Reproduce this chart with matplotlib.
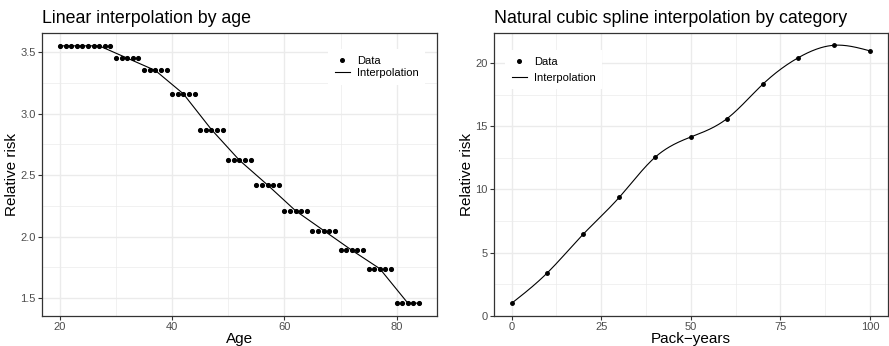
import numpy as np
import matplotlib
matplotlib.use("Agg")
import matplotlib.pyplot as plt
from matplotlib.lines import Line2D

plt.rcParams['font.family'] = ['Liberation Sans', 'DejaVu Sans']

# left panel: relative risk by single year of age (5-year group values)
ages = np.arange(20, 85)
group_rr = [3.55, 3.45, 3.35, 3.16, 2.87, 2.62, 2.42, 2.21, 2.05, 1.89, 1.74, 1.46]
group_n = [10, 5, 5, 5, 5, 5, 5, 5, 5, 5, 5, 5]
age_rr = np.repeat(group_rr, group_n)
# knots of the linear interpolation (group midpoints)
knot_age = [20, 27, 32, 37, 42, 47, 52, 57, 62, 67, 72, 77, 82, 84]
knot_rr = [3.55, 3.55, 3.45, 3.35, 3.16, 2.87, 2.62, 2.42, 2.21, 2.05, 1.89, 1.74, 1.46, 1.46]

# right panel: relative risk by pack-years category
pack_years = [0, 10, 20, 30, 40, 50, 60, 70, 80, 90, 100]
pack_rr = [1.0, 3.42, 6.47, 9.37, 12.54, 14.15, 15.58, 18.3, 20.42, 21.4, 20.95]


def natural_spline(x, y, xs):
    x = np.asarray(x, float)
    y = np.asarray(y, float)
    n = len(x)
    h = np.diff(x)
    A = np.zeros((n - 2, n - 2))
    r = np.zeros(n - 2)
    for i in range(1, n - 1):
        A[i - 1, i - 1] = 2 * (h[i - 1] + h[i])
        if i > 1:
            A[i - 1, i - 2] = h[i - 1]
        if i < n - 2:
            A[i - 1, i] = h[i]
        r[i - 1] = 6 * ((y[i + 1] - y[i]) / h[i] - (y[i] - y[i - 1]) / h[i - 1])
    M = np.zeros(n)
    M[1:-1] = np.linalg.solve(A, r)
    k = np.clip(np.searchsorted(x, xs) - 1, 0, n - 2)
    hk = h[k]
    a = x[k + 1] - xs
    b = xs - x[k]
    return (M[k] * a**3 / (6 * hk) + M[k + 1] * b**3 / (6 * hk)
            + (y[k] / hk - M[k] * hk / 6) * a + (y[k + 1] / hk - M[k + 1] * hk / 6) * b)


def style(ax, xmaj, xmin, ymaj, ymin):
    ax.set_xticks(xmaj)
    ax.set_xticks(xmin, minor=True)
    ax.set_yticks(ymaj)
    ax.set_yticks(ymin, minor=True)
    ax.grid(True, which='major', color='#EBEBEB', linewidth=1.0)
    ax.grid(True, which='minor', color='#EBEBEB', linewidth=0.5)
    ax.set_axisbelow(True)
    for s in ax.spines.values():
        s.set_color('#333333')
        s.set_linewidth(0.9)
    ax.tick_params(which='major', length=3, width=0.8, color='#333333',
                   labelsize=8, labelcolor='#4D4D4D', pad=1.5)
    ax.tick_params(which='minor', length=0)


handles = [Line2D([], [], marker='o', color='black', linestyle='none', markersize=2.6),
           Line2D([], [], color='black', linewidth=0.8)]
labels = ['Data', 'Interpolation']

fig = plt.figure(figsize=(8.89, 3.46), dpi=100)
ax1 = fig.add_axes([0.0472, 0.0867, 0.4444, 0.818])
ax2 = fig.add_axes([0.5553, 0.0867, 0.4436, 0.818])

ax1.plot(knot_age, knot_rr, color='black', linewidth=0.8)
ax1.plot(ages, age_rr, 'o', color='black', markersize=2.7)
ax1.set_xlim(16.8, 87.2)
ax1.set_ylim(1.3555, 3.6545)
style(ax1, [20, 40, 60, 80], [30, 50, 70], [1.5, 2.0, 2.5, 3.0, 3.5],
      [1.75, 2.25, 2.75, 3.25])
ax1.set_title('Linear interpolation by age', loc='left', fontsize=12.8, pad=7)
ax1.set_xlabel('Age', fontsize=11, labelpad=0)
ax1.set_ylabel('Relative risk', fontsize=11, labelpad=1)
ax1.legend(handles, labels, loc='center', bbox_to_anchor=(0.847, 0.88),
           frameon=True, facecolor='white', edgecolor='none', framealpha=1,
           fancybox=False, fontsize=8, handlelength=1.4, handletextpad=0.6,
           labelspacing=0.25, borderpad=0.6)

xs = np.linspace(0, 100, 401)
ax2.plot(xs, natural_spline(pack_years, pack_rr, xs), color='black', linewidth=0.8)
ax2.plot(pack_years, pack_rr, 'o', color='black', markersize=2.5)
ax2.set_xlim(-5, 105)
ax2.set_ylim(0, 22.37)
style(ax2, [0, 25, 50, 75, 100], [12.5, 37.5, 62.5, 87.5], [0, 5, 10, 15, 20],
      [2.5, 7.5, 12.5, 17.5])
ax2.set_title('Natural cubic spline interpolation by category', loc='left',
              fontsize=12.8, pad=7)
ax2.set_xlabel('Pack\u2212years', fontsize=11, labelpad=0)
ax2.set_ylabel('Relative risk', fontsize=11, labelpad=1)
ax2.legend(handles, labels, loc='center', bbox_to_anchor=(0.152, 0.87),
           frameon=True, facecolor='white', edgecolor='none', framealpha=1,
           fancybox=False, fontsize=8, handlelength=1.4, handletextpad=0.6,
           labelspacing=0.55, borderpad=0.6)

fig.savefig('out.png', dpi=100)
